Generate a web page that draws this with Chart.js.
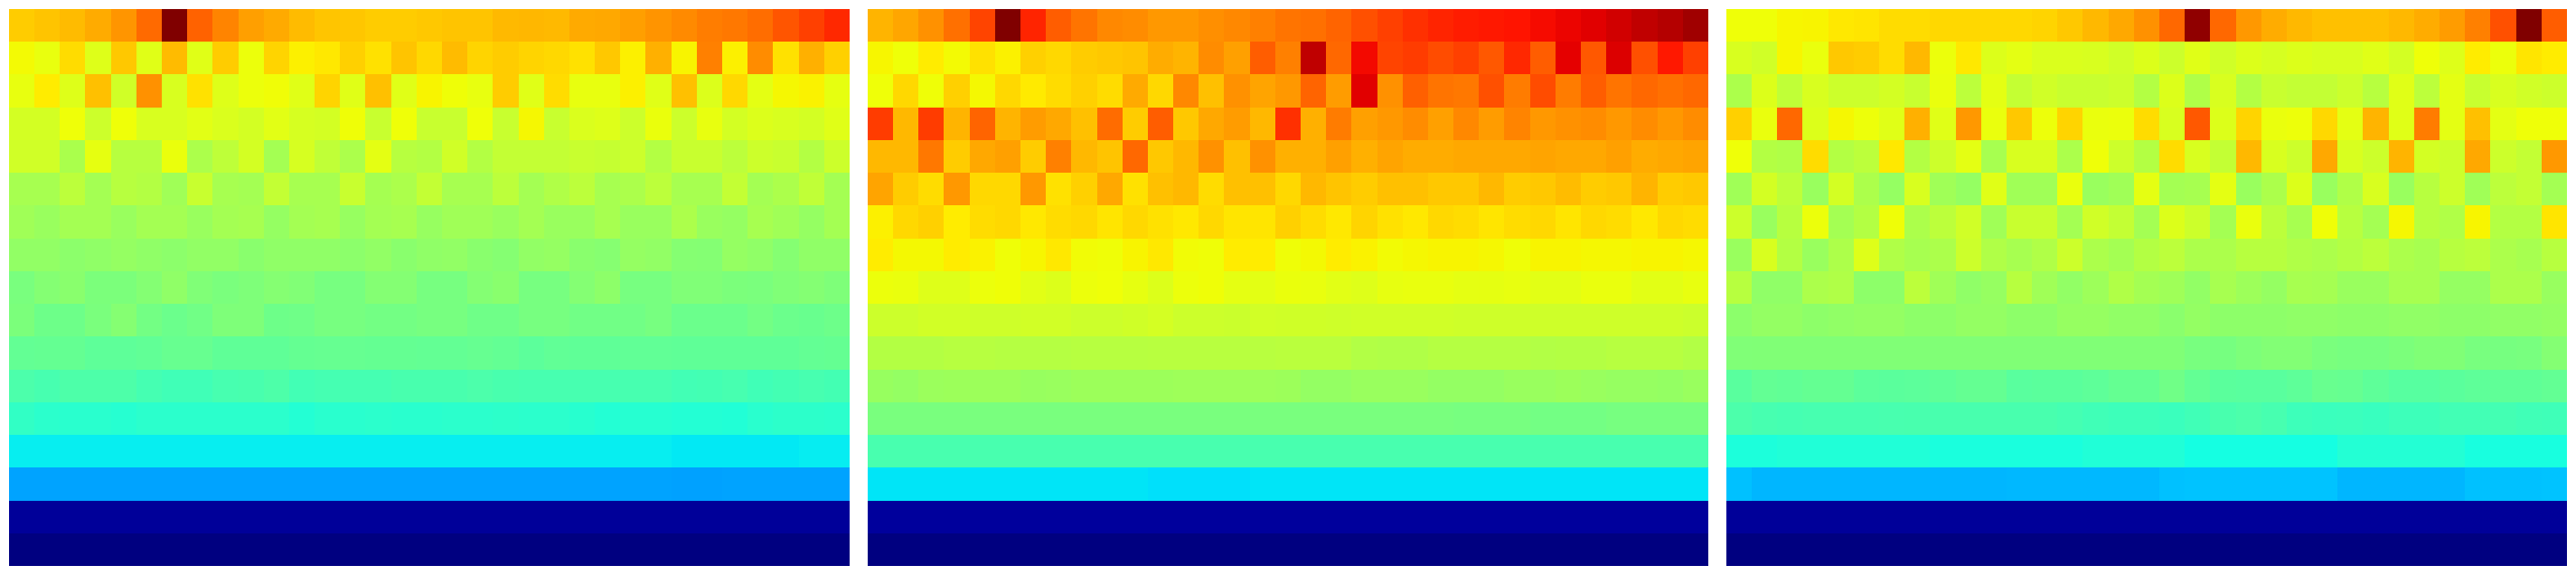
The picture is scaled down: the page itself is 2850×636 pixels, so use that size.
<!DOCTYPE html>
<html>
<head>
<meta charset="utf-8">
<title>Spectrograms</title>
<script src="https://cdn.jsdelivr.net/npm/chart.js@4/dist/chart.umd.min.js"></script>
<style>
  html, body { margin: 0; padding: 0; background: #fff; }
  #wrap { position: relative; width: 2850px; height: 636px; overflow: hidden; }
  canvas { position: absolute; top: 0; }
</style>
</head>
<body>
<div id="wrap">
  <canvas id="panel1" width="950" height="636" style="left:0"></canvas>
  <canvas id="panel2" width="950" height="636" style="left:950px"></canvas>
  <canvas id="panel3" width="950" height="636" style="left:1900px"></canvas>
</div>
<script>
// columns and rows of the grids
const columns = [0,1,2,3,4,5,6,7,8,9,10,11,12,13,14,15,16,17,18,19,20,21,22,23,24,25,26,27,28,29,30,31,32];
const rows = [0,1,2,3,4,5,6,7,8,9,10,11,12,13,14,15,16];

// cell levels, 0 to 1000. row 0 is the top one
const panel1 = [
  [694,702,712,729,752,798,1000,806,770,742,730,712,701,700,694,694,698,703,703,714,716,714,730,732,742,753,764,778,783,795,820,842,868],
  [645,633,677,620,698,622,712,622,694,637,685,656,664,690,672,702,681,712,685,694,685,681,672,698,656,724,652,775,656,762,672,724,690],
  [632,660,620,707,603,757,612,672,620,637,642,622,685,622,707,622,652,641,632,694,622,677,632,632,656,622,707,617,681,627,648,654,630],
  [607,607,640,598,640,612,612,625,615,607,625,610,607,641,593,640,593,593,640,593,648,593,615,620,598,635,598,632,607,617,612,607,622],
  [603,603,557,630,573,573,635,559,581,607,549,610,583,559,627,573,568,603,568,587,587,587,593,590,598,568,593,593,578,598,593,568,598],
  [553,553,578,549,573,568,544,593,553,549,587,553,553,593,551,559,587,553,553,578,549,564,578,553,559,578,553,553,587,549,559,583,549],
  [544,536,549,549,536,549,549,536,549,553,531,549,553,533,549,553,533,544,544,536,549,536,536,553,536,536,559,536,531,553,544,531,549],
  [527,527,520,525,531,525,520,527,527,517,525,525,525,520,527,517,525,527,517,512,527,531,517,513,531,527,512,510,531,525,512,525,525],
  [497,510,517,500,500,510,525,505,498,503,512,507,495,495,510,510,495,495,510,517,495,495,510,522,495,495,505,505,500,498,505,510,503],
  [500,483,483,498,512,490,480,487,503,503,483,485,495,495,490,490,495,495,485,485,495,495,487,487,487,495,480,480,480,490,480,477,482],
  [470,472,472,464,464,468,475,475,466,466,466,472,474,474,472,472,470,470,474,470,462,468,466,466,468,468,466,466,466,466,466,470,472],
  [442,436,444,444,444,434,428,428,436,438,444,430,434,434,434,438,438,438,442,438,436,436,436,436,436,436,430,432,436,428,432,436,432],
  [410,402,400,400,396,402,402,402,402,402,402,392,400,400,402,400,400,402,402,404,402,402,398,392,396,396,392,392,390,400,404,404,402],
  [358,358,358,358,358,358,358,358,358,358,358,358,358,358,358,358,358,358,358,358,358,358,358,358,358,358,353,353,353,353,353,357,357],
  [285,285,285,285,285,285,285,285,285,285,285,285,285,285,285,285,285,285,285,285,285,285,285,285,285,285,283,283,285,285,285,285,285],
  [22,22,22,22,22,22,22,22,22,22,22,22,22,22,22,22,22,22,22,22,22,22,22,22,22,22,22,22,22,22,22,22,22],
  [0,0,0,0,0,0,0,0,0,0,0,0,0,0,0,0,0,0,0,0,0,0,0,0,0,0,0,0,0,0,0,0,0]
];

const panel2 = [
  [719,734,757,791,838,1000,872,812,787,766,762,749,749,759,766,775,787,791,804,825,842,859,872,880,885,889,898,906,916,930,944,955,972],
  [650,640,660,645,672,655,690,681,694,698,702,728,719,762,741,812,775,945,800,900,838,846,830,842,817,868,812,912,817,920,825,885,842],
  [640,681,641,690,647,681,662,677,690,677,730,681,766,707,757,736,749,804,745,916,757,808,787,783,825,779,830,779,812,787,800,791,800],
  [846,715,846,719,804,719,745,732,707,796,694,812,698,732,745,715,859,724,779,741,749,762,741,766,745,770,749,757,762,749,762,749,762],
  [715,715,783,694,732,741,694,775,715,702,800,698,715,757,707,757,724,724,741,724,736,728,728,732,732,732,736,732,732,741,728,732,736],
  [736,694,677,749,681,681,749,672,690,732,672,707,715,677,707,707,681,715,702,694,707,707,698,698,715,694,698,711,694,698,719,694,698],
  [656,681,690,660,677,681,664,677,681,668,681,672,664,681,668,668,690,677,664,685,672,664,681,677,668,677,681,668,681,677,664,681,677],
  [660,647,647,660,654,641,650,664,643,641,652,664,643,641,660,660,641,646,660,654,644,648,652,652,648,641,652,652,648,648,652,652,648],
  [637,634,620,620,637,641,625,618,637,640,630,618,637,641,628,626,635,633,625,620,631,633,633,628,629,632,625,625,634,634,625,625,632],
  [598,598,604,604,600,600,604,604,598,598,602,608,598,598,596,604,602,602,600,603,603,603,603,600,600,600,600,600,600,600,600,600,597],
  [568,568,568,572,572,570,570,570,572,572,572,574,574,574,574,574,576,576,576,566,564,564,570,570,570,570,566,568,568,572,572,572,566],
  [534,530,538,540,540,540,534,536,540,540,540,540,542,542,542,542,540,530,530,536,536,536,530,530,530,536,536,540,536,532,532,530,536],
  [497,497,497,497,497,497,497,497,497,497,497,497,497,497,497,497,497,497,497,497,497,497,497,495,495,495,490,490,490,495,495,495,495],
  [437,437,437,437,437,437,437,437,437,437,437,437,437,437,437,437,437,437,437,437,437,437,437,437,437,437,437,437,437,437,437,437,437],
  [350,350,350,350,350,350,350,350,350,350,350,345,345,345,345,350,350,350,350,350,350,350,350,350,350,350,350,350,350,350,350,350,350],
  [25,25,25,25,25,25,25,25,25,25,25,25,25,25,25,25,25,25,25,25,25,25,25,25,25,25,25,25,25,25,25,25,25],
  [0,0,0,0,0,0,0,0,0,0,0,0,0,0,0,0,0,0,0,0,0,0,0,0,0,0,0,0,0,0,0,0,0]
];

const panel3 = [
  [640,640,650,652,664,668,677,677,681,681,681,681,685,698,715,732,757,800,986,800,749,728,715,707,707,707,715,728,745,775,825,1000,812],
  [612,603,650,634,698,694,677,715,637,664,618,627,615,615,612,603,618,598,622,603,618,610,618,612,612,622,607,640,620,660,637,668,660],
  [559,618,583,612,598,598,607,593,634,578,627,588,603,593,593,598,568,618,564,612,568,593,587,587,598,573,622,578,627,593,612,603,598],
  [690,634,800,618,648,638,622,724,622,749,634,698,638,685,634,636,677,612,817,618,685,634,638,681,627,719,622,779,627,707,627,640,640],
  [640,568,564,677,568,578,664,568,598,627,553,612,612,559,640,598,568,677,612,587,715,612,598,732,612,598,719,607,598,732,598,587,749],
  [544,607,581,536,607,559,531,612,544,531,622,544,544,634,536,544,628,549,553,627,536,559,618,536,564,612,536,573,598,544,578,587,549],
  [598,536,573,637,549,568,641,559,578,603,544,593,593,549,603,587,549,618,598,549,634,578,553,641,573,549,648,573,564,651,568,568,668],
  [536,612,568,536,560,620,564,553,559,598,564,553,564,598,559,549,568,578,559,559,573,573,564,559,568,578,559,553,573,578,559,553,573],
  [573,525,525,559,564,522,522,578,544,525,532,573,544,527,541,564,549,543,527,553,541,531,553,550,536,536,553,553,531,531,559,559,535],
  [520,530,530,522,526,530,530,522,522,530,530,522,522,532,532,526,526,518,530,522,522,522,525,525,522,522,526,526,522,522,526,526,530],
  [505,506,506,506,506,506,506,506,506,506,506,506,506,506,506,506,506,506,496,494,502,508,508,498,495,495,500,506,506,496,494,496,510],
  [458,470,468,472,472,462,460,462,466,472,472,458,460,460,464,472,472,486,470,460,458,458,464,476,474,464,456,456,460,464,466,466,470],
  [442,436,434,436,436,436,437,438,438,438,438,438,438,434,428,424,424,420,428,438,442,436,424,420,422,418,424,424,430,430,432,428,426],
  [384,384,389,389,389,389,389,389,381,381,381,381,381,381,389,389,389,389,375,375,375,375,375,375,392,392,392,392,392,379,379,379,379],
  [314,303,303,303,303,303,303,303,303,303,303,305,305,305,305,305,305,314,316,316,316,316,316,316,303,303,303,303,303,314,314,314,316],
  [22,22,22,22,22,22,22,22,22,22,22,22,22,22,22,22,22,22,22,22,22,22,22,22,22,22,22,22,22,22,22,22,22],
  [0,0,0,0,0,0,0,0,0,0,0,0,0,0,0,0,0,0,0,0,0,0,0,0,0,0,0,0,0,0,0,0,0]
];

// jet colormap, piecewise linear
function lerpStops(stops, t) {
  for (let i = 1; i < stops.length; i++) {
    if (t <= stops[i][0]) {
      const a = stops[i - 1], b = stops[i];
      return a[1] + (b[1] - a[1]) * (t - a[0]) / (b[0] - a[0]);
    }
  }
  return stops[stops.length - 1][1];
}
const jetR = [[0,0],[0.35,0],[0.66,1],[0.89,1],[1,0.5]];
const jetG = [[0,0],[0.125,0],[0.375,1],[0.64,1],[0.91,0],[1,0]];
const jetB = [[0,0.5],[0.11,1],[0.34,1],[0.65,0],[1,0]];

function jet(level) {
  const t = level / 1000;
  const r = Math.round(lerpStops(jetR, t) * 255);
  const g = Math.round(lerpStops(jetG, t) * 255);
  const b = Math.round(lerpStops(jetB, t) * 255);
  return `rgb(${r},${g},${b})`;
}

// bars land on fractional pixels, snap them so neighbours don't leave seams
const snapCells = {
  id: "snapCells",
  afterDatasetsUpdate(chart) {
    chart.getSortedVisibleDatasetMetas().forEach((meta) => {
      meta.data.forEach((bar) => {
        const left = Math.round(bar.x - bar.width / 2 - 0.05);
        const right = Math.round(bar.x + bar.width / 2 - 0.05);
        const top = Math.round(Math.min(bar.y, bar.base));
        const bottom = Math.round(Math.max(bar.y, bar.base));
        bar.x = (left + right) / 2;
        bar.width = right - left;
        bar.y = top;
        bar.base = bottom;
        bar.height = bottom - top;
      });
    });
  }
};

function drawPanel(id, levels) {
  new Chart(document.getElementById(id), {
    type: "bar",
    data: {
      labels: columns,
      datasets: rows.map((r) => ({
        data: columns.map(() => [r, r + 1]),
        backgroundColor: levels[r].map((v) => jet(v)),
        borderWidth: 0,
        inflateAmount: 0,
        barPercentage: 1,
        categoryPercentage: 1,
        grouped: false
      }))
    },
    options: {
      responsive: false,
      animation: false,
      events: [],
      layout: { padding: { left: 10, right: 10, top: 10, bottom: 10 } },
      plugins: { legend: { display: false }, tooltip: { enabled: false } },
      scales: {
        x: { display: false },
        y: { display: false, min: 0, max: rows.length, reverse: true }
      }
    },
    plugins: [snapCells]
  });
}

drawPanel("panel1", panel1);
drawPanel("panel2", panel2);
drawPanel("panel3", panel3);
</script>
</body>
</html>
